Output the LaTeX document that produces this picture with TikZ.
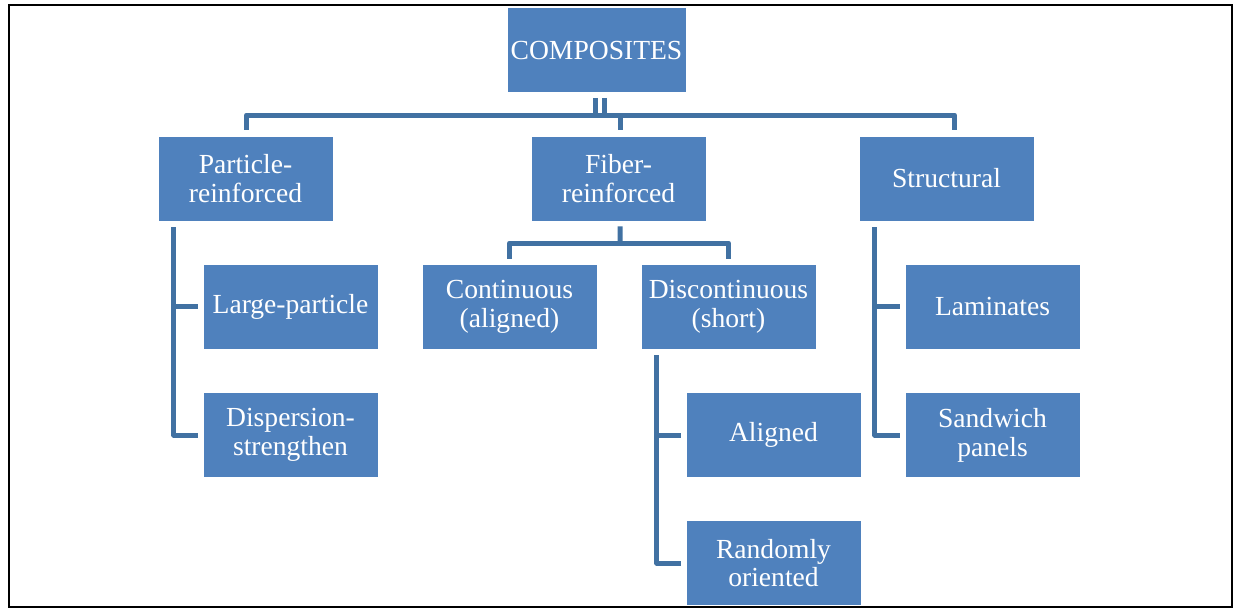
\documentclass[tikz,border=0pt]{standalone}
\usepackage{fontspec}
\setmainfont{Liberation Serif}
\definecolor{boxblue}{RGB}{79,129,189}
\definecolor{lineblue}{RGB}{65,113,162}

\def\boxw{3.5cm}
\def\boxh{1.7cm}
\def\trunk{0.32cm}

\begin{document}
\begin{tikzpicture}[x=0.02cm,y=-0.02cm]
    \tikzstyle{box}=[rectangle,fill=boxblue,draw=white,line width=0.4pt,text=white,minimum width=\boxw,minimum height=\boxh,inner sep=2pt,align=center,font=\fontsize{15.7}{16.4}\selectfont]
    \tikzstyle{link}=[draw=lineblue,line width=0.1cm,line join=round]

    \useasboundingbox (0,0) rectangle (1236,609);
    \draw[black,line width=0.8pt] (9,5) rectangle (1232,607);

    % Draw the top node and the three classes
    \node[box] (comp) at (596.5,50) {COMPOSITES};
    \node[box] (part) at (245.5,178.5) {Particle-\\reinforced};
    \node[box] (fiber) at (618.5,178.5) {Fiber-\\reinforced};
    \node[box] (struct) at (946.5,178.5) {Structural};

    % Draw the sub-classes
    \node[box] (large) at (290.5,306.5) {Large-particle};
    \node[box] (disp) at (290.5,435) {Dispersion-\\strengthen};
    \node[box] (cont) at (509.5,306.5) {Continuous\\(aligned)};
    \node[box] (disc) at (728.5,306.5) {Discontinuous\\(short)};
    \node[box] (align) at (773.5,435) {Aligned};
    \node[box] (random) at (773.5,563) {Randomly\\oriented};
    \node[box] (lam) at (992.5,306.5) {Laminates};
    \node[box] (sand) at (992.5,435) {Sandwich\\panels};

    % Connect the top node with the three classes
    \coordinate (bus) at (600,115);
    \draw[link] ([xshift=-0.02cm,yshift=-0.1cm]comp.south) -- ([xshift=-0.02cm]comp.south |- bus);
    \draw[link] ([xshift=0.16cm,yshift=-0.1cm]comp.south) -- ([xshift=0.16cm]comp.south |- bus);
    \draw[link] ([xshift=0.02cm,yshift=0.12cm]part.north) |- (bus) -| ([xshift=0.16cm,yshift=0.12cm]struct.north);
    \draw[link] (bus) -| ([xshift=0.03cm,yshift=0.12cm]fiber.north);

    % Connect fiber-reinforced with its two kinds
    \coordinate (fbus) at (620,243);
    \draw[link] ([xshift=0.03cm,yshift=-0.1cm]fiber.south) -- (fbus);
    \draw[link] ([yshift=0.1cm]cont.north) |- (fbus) -| ([yshift=0.1cm]disc.north);

    % Side trunks down to the sub-classes
    \coordinate (ptrunk) at ([xshift=\trunk,yshift=-0.12cm]part.south west);
    \draw[link] (ptrunk) |- ([xshift=-0.1cm]large.west);
    \draw[link] (ptrunk) |- ([xshift=-0.1cm]disp.west);

    \coordinate (dtrunk) at ([xshift=\trunk,yshift=-0.12cm]disc.south west);
    \draw[link] (dtrunk) |- ([xshift=-0.1cm]align.west);
    \draw[link] (dtrunk) |- ([xshift=-0.1cm]random.west);

    \coordinate (strunk) at ([xshift=\trunk,yshift=-0.12cm]struct.south west);
    \draw[link] (strunk) |- ([xshift=-0.1cm]lam.west);
    \draw[link] (strunk) |- ([xshift=-0.1cm]sand.west);
\end{tikzpicture}
\end{document}
